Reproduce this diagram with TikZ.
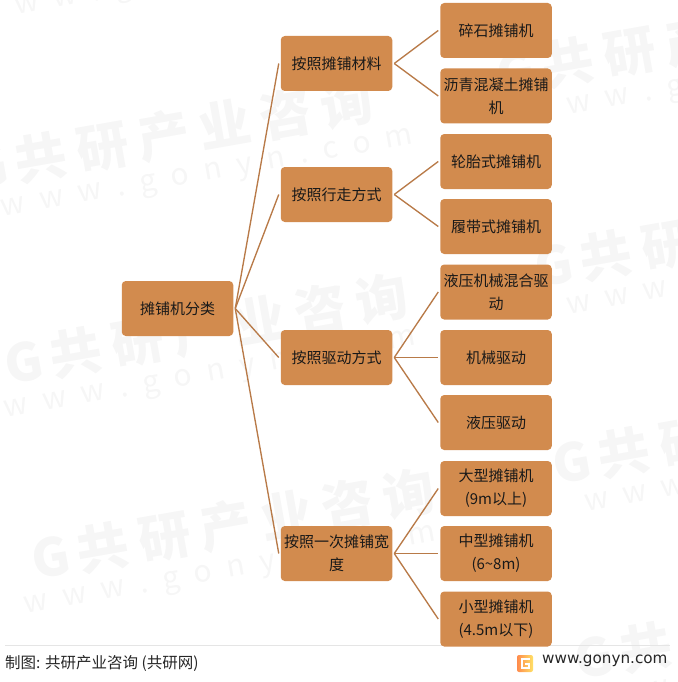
\documentclass[tikz,border=0pt]{standalone}
\usepackage{fontspec}
\setmainfont{Noto Sans CJK SC}
\newfontfamily\latinf{DejaVu Sans}
\definecolor{boxfill}{HTML}{D28B4E}
\definecolor{linkc}{HTML}{B87A48}
\definecolor{wmark}{HTML}{F6F6F6}
\tikzset{
  x=1pt,y=-1pt,
  mapbox/.style={draw=none,fill=boxfill,rounded corners=4pt,minimum width=111.5pt,minimum height=55pt,inner sep=0pt,outer sep=2pt,align=center,text width=111.5pt,font=\fontsize{15}{23}\selectfont,text=black!90},
  link/.style={draw=linkc,line width=1.35pt},
  wmtext/.style={text=wmark,font=\fontsize{52}{52}\bfseries\selectfont,rotate=10,anchor=west,inner sep=0pt},
  wmurl/.style={text=wmark,font=\fontsize{30}{30}\selectfont,rotate=10,anchor=west,inner sep=0pt},
  footer/.style={font=\fontsize{15.5}{17}\selectfont,text=black!85,anchor=west,inner sep=0pt}
}
\newcommand{\wmtile}[4]{%
  \node[wmtext] at (#1,#2) {G\hspace{8pt}共\hspace{10pt}研\hspace{10pt}产\hspace{10pt}业\hspace{10pt}咨\hspace{10pt}询};
  \node[wmurl] at (#3,#4) {w\hspace{15pt}w\hspace{15pt}w\hspace{15pt}.\hspace{15pt}g\hspace{15pt}o\hspace{15pt}n\hspace{15pt}y\hspace{15pt}n\hspace{15pt}.\hspace{15pt}c\hspace{15pt}o\hspace{15pt}m};
}
\begin{document}
\begin{tikzpicture}
\useasboundingbox (0,0) rectangle (677,682);
\begin{scope}
\clip (0,0) rectangle (677,682);
\wmtile{-30}{170}{2}{212}
\wmtile{5}{365}{5}{413}
\wmtile{32}{560}{25}{609}
\wmtile{497}{75}{529}{117}
\wmtile{535}{268}{567}{310}
\wmtile{553}{465}{585}{507}
\wmtile{575}{660}{607}{702}
\wmtile{-55}{-25}{-23}{17}
\end{scope}

\coordinate (ruleL) at (5,645);
\coordinate (ruleR) at (670,645);
\draw[draw=black!10,line width=0.8pt] (ruleL) -- (ruleR);

\node[mapbox] (root) at (177.5,308.5) {摊铺机分类};
\node[mapbox] (m1) at (336.5,63.5) {按照摊铺材料};
\node[mapbox] (m2) at (336.5,194.5) {按照行走方式};
\node[mapbox] (m3) at (336.5,357.5) {按照驱动方式};
\node[mapbox] (m4) at (336.5,553.5) {按照一次摊铺宽\\度};
\node[mapbox] (a1) at (496,30.5) {碎石摊铺机};
\node[mapbox] (a2) at (496,96) {沥青混凝土摊铺\\机};
\node[mapbox] (b1) at (496,161.5) {轮胎式摊铺机};
\node[mapbox] (b2) at (496,226.5) {履带式摊铺机};
\node[mapbox] (c1) at (496,292) {液压机械混合驱\\动};
\node[mapbox] (c2) at (496,357.5) {机械驱动};
\node[mapbox] (c3) at (496,422.5) {液压驱动};
\node[mapbox] (d1) at (496,488.5) {大型摊铺机\\(9m以上)};
\node[mapbox] (d2) at (496,553.5) {中型摊铺机\\(6\textasciitilde 8m)};
\node[mapbox] (d3) at (496,619) {小型摊铺机\\(4.5m以下)};

\foreach \t in {m1,m2,m3,m4} \draw[link] (root.east) -- (\t.west);
\foreach \t in {a1,a2} \draw[link] (m1.east) -- (\t.west);
\foreach \t in {b1,b2} \draw[link] (m2.east) -- (\t.west);
\foreach \t in {c1,c2,c3} \draw[link] (m3.east) -- (\t.west);
\foreach \t in {d1,d2,d3} \draw[link] (m4.east) -- (\t.west);

\node[footer] (src) at (5,663) {制图: 共研产业咨询 (共研网)};
\node[footer,font=\latinf\fontsize{15.2}{17}\selectfont] (url) at (542,661) {www.gonyn.com};
\shade[left color=orange!70!red!70,right color=orange!40!yellow!60,rounded corners=2pt] (517,655) rectangle (533,672);
\draw[white,line width=2pt] (530,659) -- (522,659) -- (522,668) -- (529,668) -- (529,664) -- (525,664);
\end{tikzpicture}
\end{document}
